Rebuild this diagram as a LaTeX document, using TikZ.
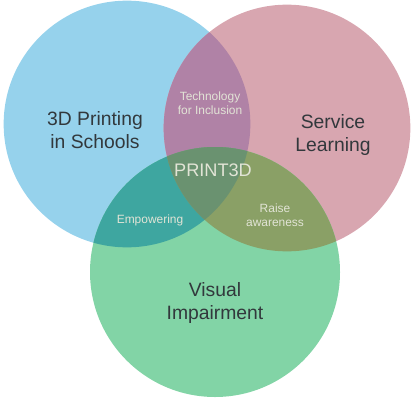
\documentclass[tikz,border=0pt]{standalone}
\usepackage{fontspec}
\setmainfont{Liberation Sans}
\definecolor{myblue}{RGB}{150,210,236}
\definecolor{mypink}{RGB}{216,166,176}
\definecolor{mygreen}{RGB}{130,212,166}
\definecolor{mybp}{RGB}{176,130,166}
\definecolor{mybg}{RGB}{62,166,160}
\definecolor{mypg}{RGB}{138,160,102}
\definecolor{mymid}{RGB}{106,146,112}
\definecolor{mytext}{RGB}{50,56,60}
\definecolor{mylight}{RGB}{226,228,214}
\usetikzlibrary{positioning}

\begin{document}
\begin{tikzpicture}[
    every node/.style={align=center},
    setnode/.style={circle,minimum size=7.4cm,inner sep=0pt},
    bignode/.style={text=mytext,font=\fontsize{16.5}{20}\selectfont},
    smallnode/.style={text=mylight,font=\fontsize{10.2}{11.5}\selectfont},
    ]
    \useasboundingbox (0,0) rectangle (12.36,11.94);

    % the three sets
    \node[setnode,fill=myblue] (schools) at (3.81,8.22) {};
    \node[setnode,fill=mypink] (service) at (8.61,8.10) {};
    \node[setnode,fill=mygreen,minimum size=7.5cm] (visual) at (6.45,3.78) {};

    % the overlaps of two sets
    \begin{scope}
    \clip (schools.center) circle[radius=3.7cm];
    \fill[mybp] (service.center) circle[radius=3.7cm];
    \fill[mybg] (visual.center) circle[radius=3.75cm];
    \end{scope}
    \begin{scope}
    \clip (service.center) circle[radius=3.7cm];
    \fill[mypg] (visual.center) circle[radius=3.75cm];
    % the overlap of all three
    \clip (schools.center) circle[radius=3.7cm];
    \fill[mymid] (visual.center) circle[radius=3.75cm];
    \end{scope}

    % the set labels
    \node[bignode] (lschools) at (2.85,8.04) {3D Printing\\in Schools};
    \node[bignode] (lservice) at (9.99,7.89) {Service\\Learning};
    \node[bignode] (lvisual) at (6.45,2.85) {Visual\\Impairment};

    % the overlap labels
    \node[smallnode] (tech) at (6.3,8.85) {Technology\\for Inclusion};
    \node[smallnode] (empower) at (4.5,5.34) {Empowering};
    \node[smallnode] (raise) at (8.25,5.49) {Raise\\awareness};
    \node[smallnode,font=\fontsize{15.5}{17}\selectfont] (print) at (6.39,6.84) {PRINT3D};
\end{tikzpicture}
\end{document}
